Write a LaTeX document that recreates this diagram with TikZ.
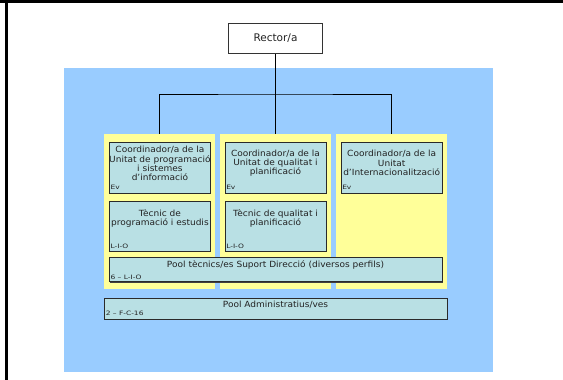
\documentclass[tikz,border=0pt]{standalone}
\usepackage{fontspec}
\setmainfont{DejaVu Sans}
\newfontfamily\unitfont[FakeStretch=1.06]{DejaVu Sans}
\newfontfamily\tagfont[FakeStretch=1.25]{DejaVu Sans}
\usetikzlibrary{calc,shadows}
\definecolor{paneblue}{HTML}{99CCFF}
\definecolor{colyellow}{HTML}{FFFF99}
\definecolor{boxfill}{HTML}{B9E0E4}
\definecolor{boxline}{HTML}{2A2A2A}
\definecolor{inktext}{HTML}{222222}
\lineskiplimit=-100pt
\begin{document}
\begin{tikzpicture}[x=1pt,y=-1pt,
  column/.style={fill=colyellow, inner sep=0pt, minimum width=111pt, minimum height=155.3pt},
  unitbox/.style={draw=boxline, line width=0.9pt, fill=boxfill, inner sep=0pt,
    drop shadow={shadow xshift=0.8pt, shadow yshift=-0.8pt, fill=black!75, opacity=1}},
  rectorbox/.style={draw=black!80, line width=0.8pt, fill=white, inner sep=0pt,
    text=inktext, font=\fontsize{10.5}{12}\selectfont},
  unittext/.style={align=center, inner sep=0pt, text=inktext,
    font=\unitfont\fontsize{8.5}{9.2}\selectfont},
  tag/.style={anchor=west, inner sep=0pt, text=inktext,
    font=\tagfont\fontsize{6}{7}\selectfont},
  wire/.style={draw=black, line width=0.9pt}]
\useasboundingbox (0,0) rectangle (563,380);

% page frame
\fill[black] (0,0) rectangle (563,3);
\fill[black] (4.5,0) rectangle (7.5,380);

% blue panel
\fill[paneblue] (64,68) rectangle (493,372);

% top of the chart
\node[rectorbox, minimum width=94.5pt, minimum height=30pt] (rector) at (275.5,38.5) {Rector/a};

% three units
\node[column] (col1) at (159.5,211.65) {};
\node[column] (col2) at (275.5,211.65) {};
\node[column] (col3) at (391.5,211.65) {};

\coordinate (bus) at (275.5,94);
\draw[wire] (rector.south) -- (col2.north);
\draw[wire] (col1.north) |- (bus) -| (col3.north);

% coordinators
\node[unitbox, minimum width=101.2pt, minimum height=50.7pt] (c1) at (159.9,167.65) {};
\node[unitbox, minimum width=101pt, minimum height=50.7pt] (c2) at (275.5,167.65) {};
\node[unitbox, minimum width=101.3pt, minimum height=50.7pt] (c3) at (391.65,167.65) {};

\node[unittext] (c1t) at (159.9,163.5) {Coordinador/a de la\\Unitat de programació\\i sistemes\\d’informació};
\node[unittext] (c2t) at (275.5,163) {Coordinador/a de la\\Unitat de qualitat i\\planificació};
\node[unittext] (c3t) at (391.65,163) {Coordinador/a de la\\Unitat\\d’Internacionalització};

\node[tag] (c1g) at ([xshift=1.5pt,yshift=5.7pt]c1.south west) {Ev};
\node[tag] (c2g) at ([xshift=1.5pt,yshift=5.7pt]c2.south west) {Ev};
\node[tag] (c3g) at ([xshift=1.5pt,yshift=5.7pt]c3.south west) {Ev};

% technicians
\node[unitbox, minimum width=101.2pt, minimum height=50pt] (t1) at (159.9,226) {};
\node[unitbox, minimum width=101pt, minimum height=50pt] (t2) at (275.5,226) {};

\node[unittext] (t1t) at (159.9,218.5) {Tècnic de\\programació i estudis};
\node[unittext] (t2t) at (275.5,218.5) {Tècnic de qualitat i\\planificació};

\node[tag] (t1g) at ([xshift=1.5pt,yshift=5pt]t1.south west) {L-I-O};
\node[tag] (t2g) at ([xshift=1.5pt,yshift=5pt]t2.south west) {L-I-O};

% pools
\node[unitbox, minimum width=333pt, minimum height=24.4pt] (p1) at (275.8,269.5) {};
\node[unittext] (p1t) at (275.5,265) {Pool tècnics/es Suport Direcció (diversos perfils)};
\node[tag] (p1g) at ([xshift=1.5pt,yshift=4.4pt]p1.south west) {6 – L-I-O};

\node[unitbox, minimum width=343.3pt, minimum height=21pt] (p2) at (275.65,308.8) {};
\node[unittext] (p2t) at (275.5,304.3) {Pool Administratius/ves};
\node[tag] (p2g) at ([xshift=2pt,yshift=6pt]p2.south west) {2 – F-C-16};
\end{tikzpicture}
\end{document}
